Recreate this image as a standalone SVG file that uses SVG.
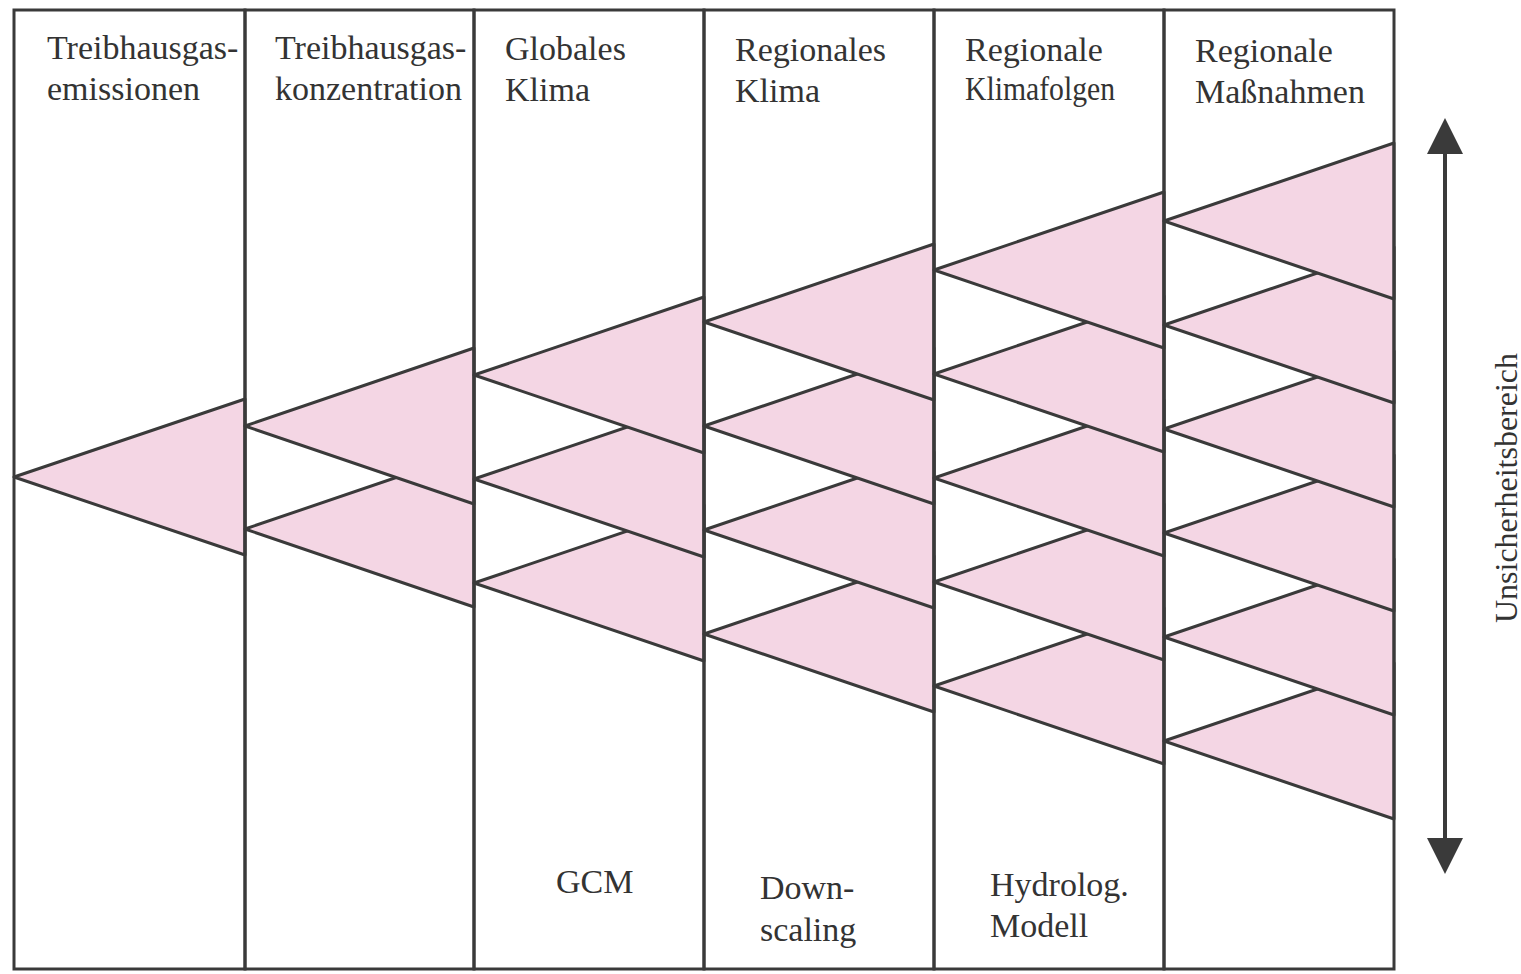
<svg xmlns="http://www.w3.org/2000/svg" width="1521" height="974" viewBox="0 0 1521 974">
<style>
.tri{fill:#f4d6e4;stroke:#3a3a3a;stroke-width:3;stroke-linejoin:round}
.col{fill:none;stroke:#3a3a3a;stroke-width:3}
.t{font-family:"Liberation Serif","Times New Roman",serif;font-size:34px;fill:#333}
.ax{stroke:#3a3a3a;stroke-width:4}
</style>
<defs>
<marker id="ah" viewBox="0 0 10 10" refX="9" refY="5" markerWidth="9" markerHeight="9" markerUnits="strokeWidth" orient="auto-start-reverse">
<path d="M0,0 L10,5 L0,10 Z" fill="#3a3a3a"/>
</marker>
</defs>
<rect x="0" y="0" width="1521" height="974" fill="#fff"/>

<g id="col1">
<polygon class="tri" points="14,477 245,399 245,555"/>
<rect class="col" x="14" y="10" width="231" height="959"/>
<text class="t" x="47" y="59">Treibhausgas-</text>
<text class="t" x="47" y="100">emissionen</text>
</g>

<g id="col2">
<polygon class="tri" points="245,529 474,451 474,607"/>
<polygon class="tri" points="245,426 474,348 474,504"/>
<rect class="col" x="245" y="10" width="229" height="959"/>
<text class="t" x="275" y="59">Treibhausgas-</text>
<text class="t" x="275" y="100">konzentration</text>
</g>

<g id="col3">
<polygon class="tri" points="474,583 704,505 704,661"/>
<polygon class="tri" points="474,479 704,401 704,557"/>
<polygon class="tri" points="474,375 704,297 704,453"/>
<rect class="col" x="474" y="10" width="230" height="959"/>
<text class="t" x="505" y="60">Globales</text>
<text class="t" x="505" y="101">Klima</text>
<text class="t" x="556" y="893">GCM</text>
</g>

<g id="col4">
<polygon class="tri" points="704,634 934,556 934,712"/>
<polygon class="tri" points="704,530 934,452 934,608"/>
<polygon class="tri" points="704,426 934,348 934,504"/>
<polygon class="tri" points="704,322 934,244 934,400"/>
<rect class="col" x="704" y="10" width="230" height="959"/>
<text class="t" x="735" y="61">Regionales</text>
<text class="t" x="735" y="102">Klima</text>
<text class="t" x="760" y="899">Down-</text>
<text class="t" x="760" y="941">scaling</text>
</g>

<g id="col5">
<polygon class="tri" points="934,686 1164,608 1164,764"/>
<polygon class="tri" points="934,582 1164,504 1164,660"/>
<polygon class="tri" points="934,478 1164,400 1164,556"/>
<polygon class="tri" points="934,374 1164,296 1164,452"/>
<polygon class="tri" points="934,270 1164,192 1164,348"/>
<rect class="col" x="934" y="10" width="230" height="959"/>
<text class="t" x="965" y="61">Regionale</text>
<text class="t" x="965" y="100" textLength="150" lengthAdjust="spacingAndGlyphs">Klimafolgen</text>
<text class="t" x="990" y="896">Hydrolog.</text>
<text class="t" x="990" y="937">Modell</text>
</g>

<g id="col6">
<polygon class="tri" points="1164,741 1394,663 1394,819"/>
<polygon class="tri" points="1164,637 1394,559 1394,715"/>
<polygon class="tri" points="1164,533 1394,455 1394,611"/>
<polygon class="tri" points="1164,429 1394,351 1394,507"/>
<polygon class="tri" points="1164,325 1394,247 1394,403"/>
<polygon class="tri" points="1164,221 1394,143 1394,299"/>
<rect class="col" x="1164" y="10" width="230" height="959"/>
<text class="t" x="1195" y="62">Regionale</text>
<text class="t" x="1195" y="103">Maßnahmen</text>
</g>

<g id="connectors">
<line class="ax" x1="1445" y1="150" x2="1445" y2="842"/>
<polygon points="1445,118 1427,154 1463,154" fill="#3a3a3a"/>
<polygon points="1445,874 1427,838 1463,838" fill="#3a3a3a"/>
</g>

<g id="label">
<text class="t" font-size="32" transform="translate(1517,488) rotate(-90)" text-anchor="middle" style="font-size:32px">Unsicherheitsbereich</text>
</g>
</svg>
